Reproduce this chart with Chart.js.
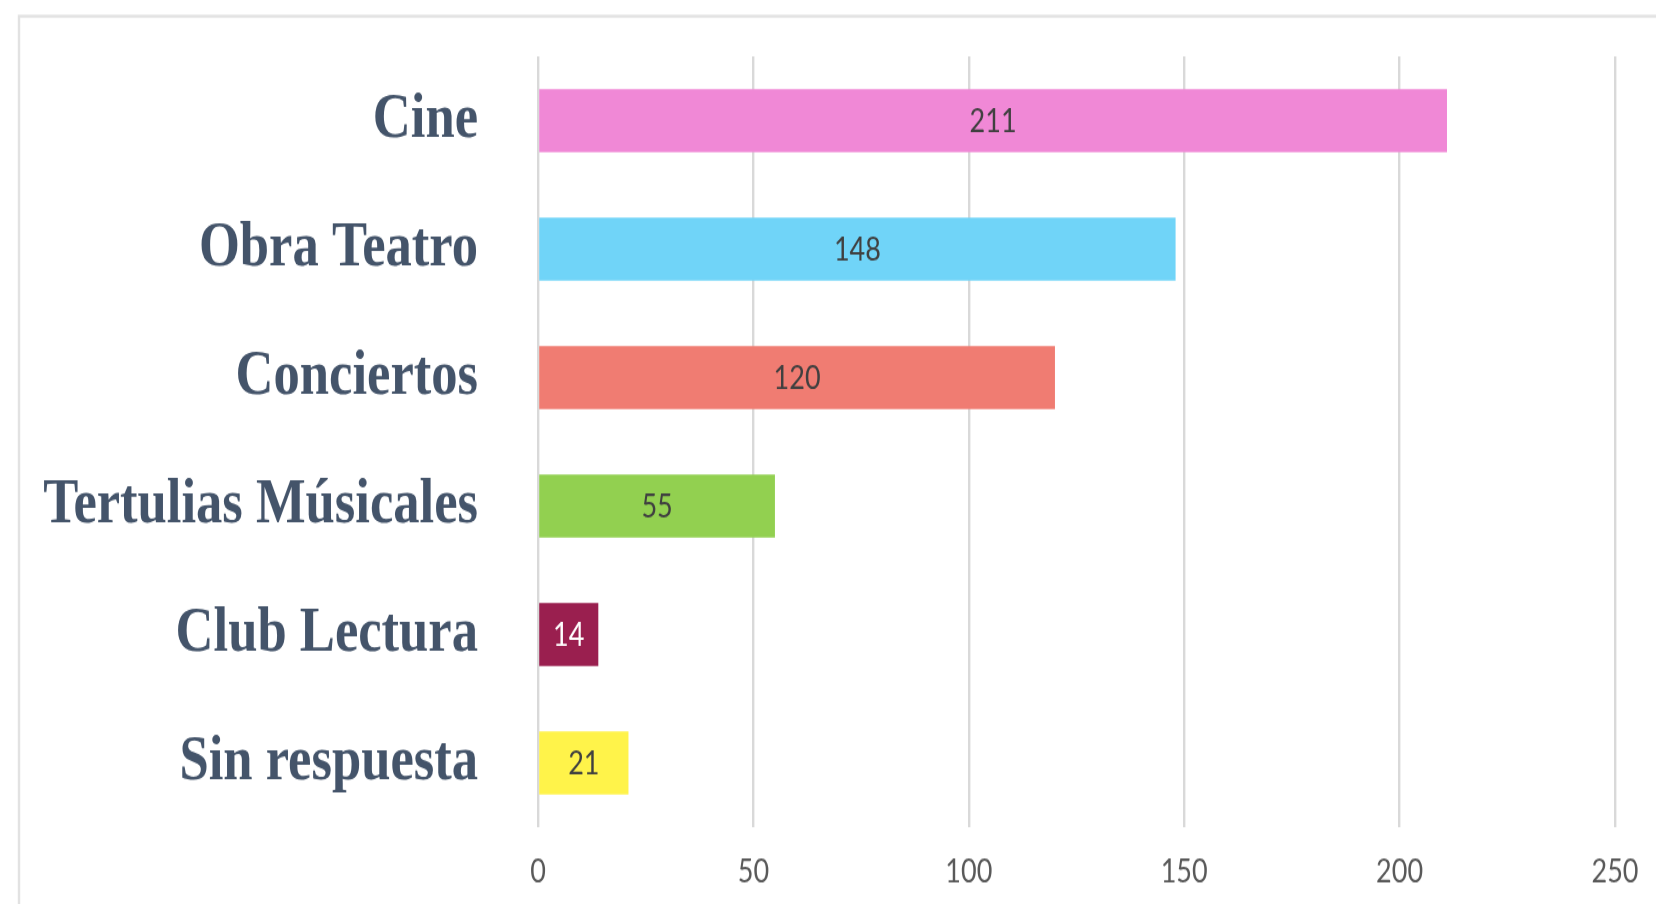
<!DOCTYPE html>
<html>
<head>
<meta charset="utf-8">
<script src="https://cdn.jsdelivr.net/npm/chart.js@4"></script>
<style>
  html, body { margin: 0; padding: 0; background: #ffffff; overflow: hidden; }
  #c { display: block; width: 1656px !important; height: 904px !important; }
</style>
</head>
<body>
<canvas id="c" width="1656" height="753" style="width:1656px;height:904px;display:block"></canvas>
<script>
// Data
const categories = ['Cine', 'Obra Teatro', 'Conciertos', 'Tertulias Músicales', 'Club Lectura', 'Sin respuesta'];
const values = [211, 148, 120, 55, 14, 21];
const barColors = ['#F088D6', '#70D4F8', '#F07C72', '#92D050', '#9A1F4F', '#FFF34A'];
const valueLabelColors = ['#404040', '#404040', '#404040', '#404040', '#FFFFFF', '#404040'];
const xTicks = [0, 50, 100, 150, 200, 250];

const framePlugin = {
  id: 'frame',
  beforeDraw(chart) {
    const ctx = chart.ctx;
    ctx.save();
    ctx.fillStyle = '#ffffff';
    ctx.fillRect(0, 0, chart.width, chart.height);
    ctx.strokeStyle = '#e2e2e2';
    ctx.lineWidth = 2.4;
    ctx.strokeRect(19, 13.5, chart.width + 100, chart.height + 100);
    ctx.restore();
  }
};

const valueLabelPlugin = {
  id: 'valueLabels',
  afterDatasetsDraw(chart) {
    const ctx = chart.ctx;
    const meta = chart.getDatasetMeta(0);
    ctx.save();
    ctx.font = '27px Lato';
    ctx.textAlign = 'center';
    ctx.textBaseline = 'middle';
    meta.data.forEach((bar, i) => {
      const cx = (bar.x + bar.base) / 2;
      ctx.fillStyle = valueLabelColors[i];
      ctx.fillText(String(values[i]), cx, bar.y + 1);
    });
    ctx.restore();
  }
};

new Chart(document.getElementById('c'), {
  type: 'bar',
  data: {
    labels: categories,
    datasets: [{
      data: values,
      backgroundColor: barColors,
      borderWidth: 0,
      barPercentage: 0.49,
      categoryPercentage: 1.0
    }]
  },
  options: {
    indexAxis: 'y',
    responsive: false,
    devicePixelRatio: 1,
    animation: false,
    layout: { padding: { left: 0, right: 41, top: 47, bottom: 0 } },
    plugins: {
      legend: { display: false },
      tooltip: { enabled: false },
      title: { display: false }
    },
    scales: {
      x: {
        type: 'linear',
        min: 0,
        max: 250,
        afterBuildTicks(scale) { scale.ticks = xTicks.map(v => ({ value: v })); },
        afterFit(scale) {
          scale.height = 64;
          scale.paddingLeft = 0;
          scale.paddingRight = 0;
        },
        grid: { color: '#d9d9d9', lineWidth: 2.4, drawTicks: false },
        border: { display: false },
        ticks: {
          padding: 21,
          color: '#595959',
          font: { family: 'Lato', size: 27 }
        }
      },
      y: {
        afterFit(scale) {
          scale.width = 538;
          scale.paddingTop = 0;
          scale.paddingBottom = 0;
        },
        grid: { display: false, drawTicks: false },
        border: { display: false },
        ticks: {
          padding: 60,
          color: '#44546A',
          font: { family: '"Liberation Serif"', size: 52.6, weight: 'bold' }
        }
      }
    }
  },
  plugins: [framePlugin, valueLabelPlugin]
});
</script>
</body>
</html>
